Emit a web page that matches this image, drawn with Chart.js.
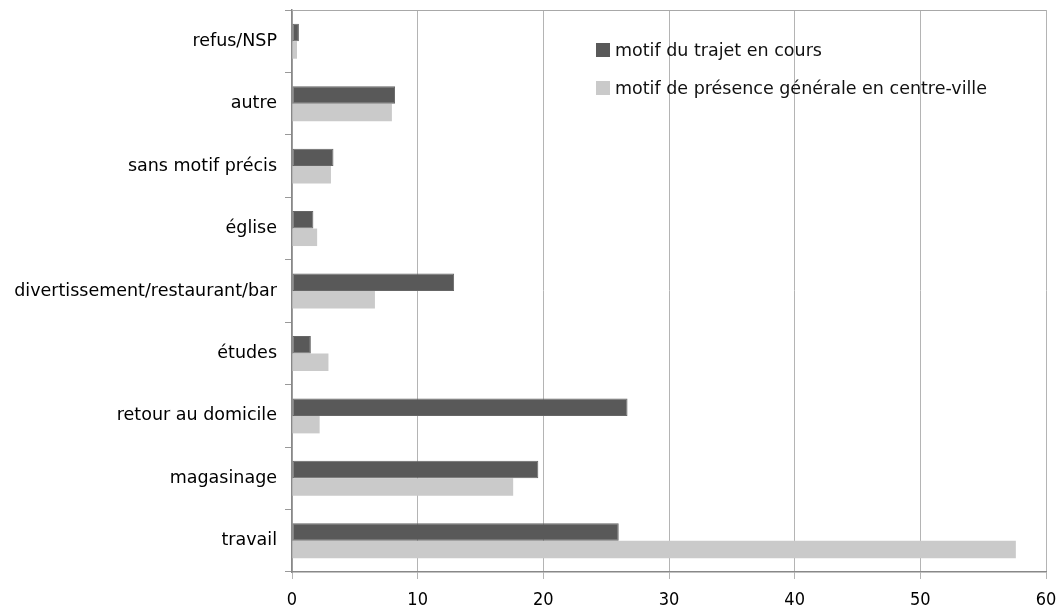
<!DOCTYPE html>
<html>
<head>
<meta charset="utf-8">
<script src="https://cdn.jsdelivr.net/npm/chart.js@4"></script>
<style>
  body { margin: 0; background: #fff; }
  #wrap { position: relative; width: 1059px; height: 610px; }
  #legend { position: absolute; left: 596px; top: 31px; font-family: "DejaVu Sans", sans-serif; font-size: 17.5px; color: #111; }
  #legend div { height: 38px; display: flex; align-items: center; }
  #legend span.box { display: inline-block; width: 14px; height: 14px; margin-right: 5px; }
</style>
</head>
<body>
<div id="wrap">
  <canvas id="theChart" width="1059" height="610"></canvas>
  <div id="legend"></div>
</div>
<script>
var categories = ['refus/NSP', 'autre', 'sans motif précis', 'église', 'divertissement/restaurant/bar', 'études', 'retour au domicile', 'magasinage', 'travail'];
var trajetValues = [0.55, 8.2, 3.3, 1.7, 12.9, 1.5, 26.7, 19.6, 26.0];
var presenceValues = [0.4, 7.95, 3.1, 2.0, 6.6, 2.9, 2.2, 17.6, 57.6];
var seriesLabels = ['motif du trajet en cours', 'motif de présence générale en centre-ville'];
var seriesColors = ['#595959', '#cacaca'];
var xTicks = [0, 10, 20, 30, 40, 50, 60];

var frame = {
    id: 'frame',
    afterDraw: function (chart) {
        var a = chart.chartArea, ctx = chart.ctx;
        ctx.save();
        ctx.strokeStyle = '#a8a8a8';
        ctx.lineWidth = 1;
        ctx.beginPath();
        ctx.moveTo(a.left, a.top + 0.5);
        ctx.lineTo(a.right, a.top + 0.5);
        ctx.stroke();
        ctx.restore();
    }
};

var ctx = document.getElementById('theChart').getContext('2d');
var chart = new Chart(ctx, {
    type: 'bar',
    data: {
        labels: categories,
        datasets: [
            { label: seriesLabels[0], data: trajetValues, backgroundColor: seriesColors[0], borderColor: '#666', borderWidth: 1, borderSkipped: false },
            { label: seriesLabels[1], data: presenceValues, backgroundColor: seriesColors[1], borderWidth: 0 }
        ]
    },
    options: {
        indexAxis: 'y',
        responsive: false,
        animation: false,
        categoryPercentage: 0.56,
        barPercentage: 1.0,
        layout: { padding: { top: 10, right: 13, left: 0, bottom: 0 } },
        plugins: { legend: { display: false }, tooltip: { enabled: false } },
        scales: {
            x: {
                min: 0, max: 60,
                afterBuildTicks: function (s) { s.ticks = xTicks.map(function (v) { return { value: v }; }); },
                afterFit: function (s) { s.height = 38; s.paddingLeft = 0; s.paddingRight = 0; },
                grid: { color: '#b4b4b4', tickLength: 7, lineWidth: 1 },
                border: { color: '#888', width: 1.5 },
                ticks: { color: '#000', padding: 11, font: { family: 'DejaVu Sans Condensed', size: 18 } }
            },
            y: {
                afterFit: function (s) { s.width = 292; s.paddingTop = 0; s.paddingBottom = 0; },
                grid: { drawOnChartArea: false, offset: true, tickLength: 7, color: '#999' },
                border: { color: '#888', width: 1.5 },
                ticks: { color: '#000', padding: 8, font: { family: 'DejaVu Sans', size: 17.5 } }
            }
        }
    },
    plugins: [frame]
});

var legend = document.getElementById('legend');
chart.data.datasets.forEach(function (ds) {
    var row = document.createElement('div');
    var box = document.createElement('span');
    box.className = 'box';
    box.style.background = ds.backgroundColor;
    row.appendChild(box);
    row.appendChild(document.createTextNode(ds.label));
    legend.appendChild(row);
});
</script>
</body>
</html>
